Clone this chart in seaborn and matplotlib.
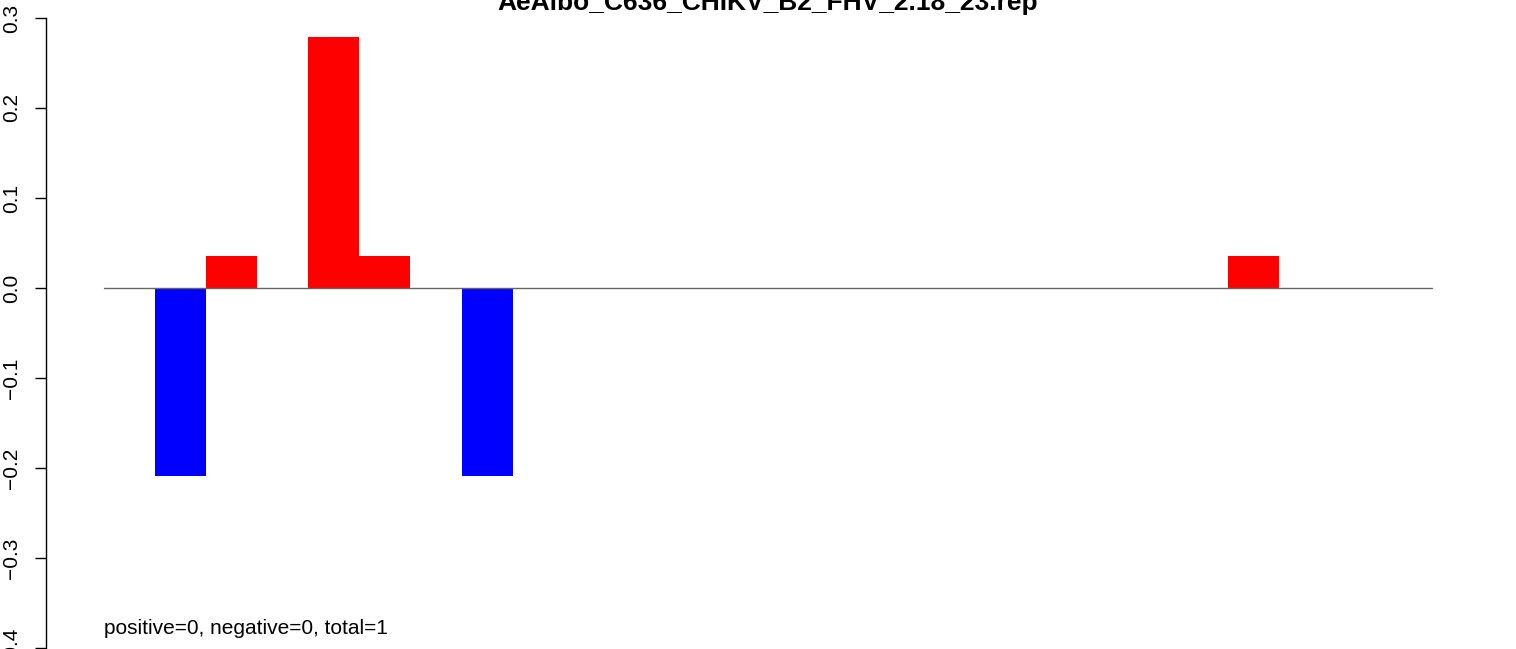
import matplotlib
matplotlib.use("Agg")
import matplotlib.pyplot as plt
import seaborn as sns
import pandas as pd

# ---- data ----
title = "AeAlbo_C636_CHIKV_B2_FHV_2.18_23.rep"
positions = list(range(26))
values = [0, -0.209, 0.035, 0, 0.279, 0.035, 0, -0.209, 0, 0,
          0, 0, 0, 0, 0, 0, 0, 0, 0, 0,
          0, 0, 0.035, 0, 0, 0]
yticks = [-0.4, -0.3, -0.2, -0.1, 0.0, 0.1, 0.2, 0.3]
note = "positive=0, negative=0, total=1"

sns.set_theme(style="white")
plt.rcParams['font.family'] = ['Liberation Sans', 'DejaVu Sans']

W, H = 1516, 649
fig = plt.figure(figsize=(W / 100, H / 100), dpi=100)
left, right, top, bottom = 46, 1490, 18, 648
ax = fig.add_axes([left / W, 1 - bottom / H, (right - left) / W, (bottom - top) / H])

df = pd.DataFrame({"pos": positions, "val": values})
df["sign"] = ["neg" if v < 0 else "pos" for v in df["val"]]
sns.barplot(data=df, x="pos", y="val", hue="sign", palette={"pos": "#ff0000", "neg": "#0000ff"},
            dodge=False, width=1.0, legend=False, ax=ax, linewidth=0, saturation=1)

n = len(positions)
ax.plot([-0.5, n - 0.5], [0, 0], color="#666666", lw=1.0, zorder=3)

pxu = (1432 - 104) / n
ax.set_xlim(-0.5 - (104 - left) / pxu, n - 0.5 + (right - 1432) / pxu)
ax.set_ylim(-0.4, 0.3)
ax.set_yticks(yticks)
ax.set_yticklabels([("\u2212" if t < 0 else "") + f"{abs(t):.1f}" for t in yticks],
                   rotation=90, va="center", fontsize=15)
ax.tick_params(axis="y", left=True, length=8, width=1, color="black", pad=10, labelcolor="black")
ax.set_xticks([])
ax.set_xlabel("")
ax.set_ylabel("")
for s in ["top", "right", "bottom"]:
    ax.spines[s].set_visible(False)
ax.spines["left"].set_color("black")
ax.spines["left"].set_linewidth(1)
ax.grid(False)

ax.text(-0.5, -0.385, note, fontsize=15, ha="left", va="baseline", color="black")
fig.text((left + right) / 2 / W, 1 - 10 / H, title, fontsize=19, fontweight="bold",
         ha="center", va="baseline", color="black")

fig.savefig("out.png", dpi=100)
